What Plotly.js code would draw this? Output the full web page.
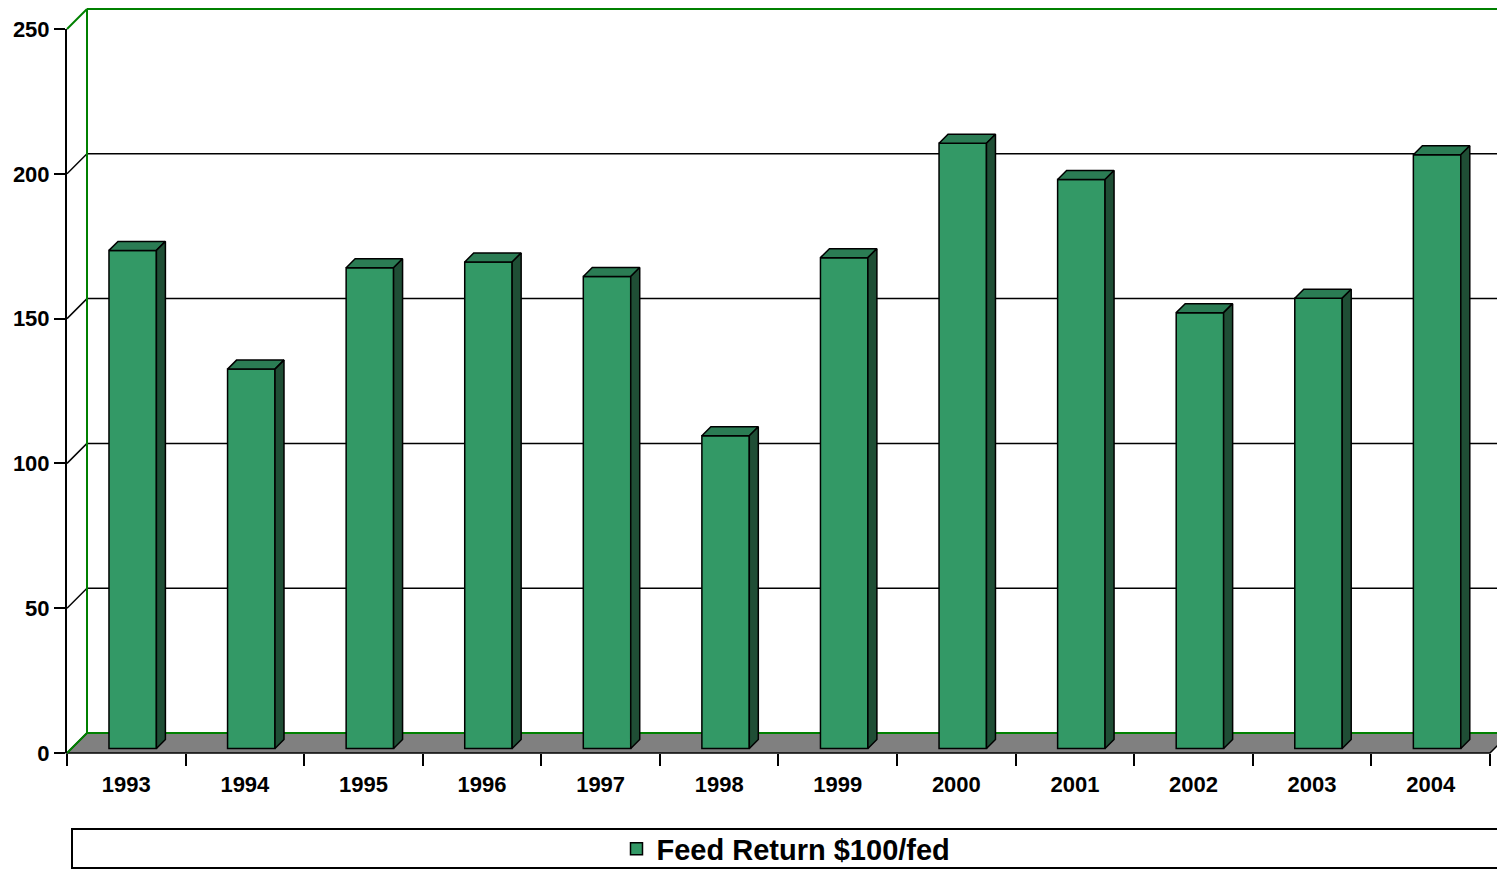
<!DOCTYPE html>
<html>
<head>
<meta charset="utf-8">
<script src="https://cdn.plot.ly/plotly-3.0.1.min.js"></script>
<style>
  html, body { margin: 0; padding: 0; background: #fff; }
  #plotDiv { width: 1497px; height: 870px; }
</style>
</head>
<body>
<div id="plotDiv"></div>
<script>
// data
var years = ['1993', '1994', '1995', '1996', '1997', '1998', '1999', '2000', '2001', '2002', '2003', '2004'];
var feedReturn = [172, 131, 166, 168, 163, 108, 169.5, 209, 196.5, 150.5, 155.5, 205];
var yTicks = [0, 50, 100, 150, 200, 250];
var seriesName = 'Feed Return $100/fed';

// pixel scale of the plot (used for the fake 3d depth)
var W = 1497, H = 870;
var mL = 67, mR = 0, mT = 29, mB = 117;
var pxPerCat = 118.58;
var yMax = 250;
var pxPerY = (H - mT - mB) / yMax;
var xMin = -0.5;
var xMax = xMin + (W - mL - mR) / pxPerCat;

// depth of the walls and of the bars, in pixels
var wallDx = 20 / pxPerCat, wallDy = 20 / pxPerY;
var barDx = 9 / pxPerCat, barDy = 9 / pxPerY;
var barBase = 4.5 / pxPerY;
var barOffset = -0.146, barWidth = 0.40;

var green = '#339966', greenTop = '#2b7c54', greenSide = '#1f4e35';
var wallGreen = '#008000';

var idx = years.map(function (y, i) { return i; });

// data -> paper
function px(x) { return (x - xMin) / (xMax - xMin); }
function py(y) { return y / yMax; }

// front faces
var bars = {
    x: idx,
    y: feedReturn,
    base: feedReturn.map(function () { return barBase; }),
    type: 'bar',
    width: barWidth,
    offset: barOffset,
    name: seriesName,
    marker: { color: green, line: { color: '#000', width: 1.5 } },
    hoverinfo: 'skip'
};

// top and side faces
var topX = [], topY = [], sideX = [], sideY = [];
for (var i = 0; i < feedReturn.length; i++) {
    var x0 = i + barOffset, x1 = x0 + barWidth;
    var t = barBase + feedReturn[i];
    topX.push(x0, x1, x1 + barDx, x0 + barDx, x0, null);
    topY.push(t, t, t + barDy, t + barDy, t, null);
    sideX.push(x1, x1 + barDx, x1 + barDx, x1, x1, null);
    sideY.push(barBase, barBase + barDy, t + barDy, t, barBase, null);
}
var tops = {
    x: topX, y: topY, mode: 'lines', fill: 'toself', fillcolor: greenTop,
    line: { color: '#000', width: 1.5 }, showlegend: false, hoverinfo: 'skip'
};
var sides = {
    x: sideX, y: sideY, mode: 'lines', fill: 'toself', fillcolor: greenSide,
    line: { color: '#000', width: 1.5 }, showlegend: false, hoverinfo: 'skip'
};

// walls, floor and gridlines
var shapes = [];
var bx = xMin + wallDx;
// floor
shapes.push({
    type: 'path', xref: 'paper', yref: 'paper', layer: 'below',
    path: 'M' + px(xMin) + ',' + py(0) + ' L' + px(11.5) + ',' + py(0) +
          ' L' + px(11.5 + wallDx) + ',' + py(wallDy) + ' L' + px(bx) + ',' + py(wallDy) + ' Z',
    fillcolor: '#808080', line: { color: '#000', width: 1.5 }
});
yTicks.forEach(function (g) {
    var c = (g === 0 || g === yMax) ? wallGreen : '#000';
    var w = (g === 0 || g === yMax) ? 2 : 1.5;
    // left wall diagonal
    shapes.push({
        type: 'line', xref: 'paper', yref: 'paper', layer: 'below',
        x0: px(xMin), y0: py(g), x1: px(bx), y1: py(g + wallDy),
        line: { color: c, width: w }
    });
    // back wall line
    shapes.push({
        type: 'line', xref: 'paper', yref: 'paper', layer: 'below',
        x0: px(bx), y0: py(g + wallDy), x1: 1.05, y1: py(g + wallDy),
        line: { color: c, width: w }
    });
});
// back wall left edge
shapes.push({
    type: 'line', xref: 'paper', yref: 'paper', layer: 'below',
    x0: px(bx), y0: py(wallDy), x1: px(bx), y1: py(yMax + wallDy),
    line: { color: wallGreen, width: 2 }
});
// legend box
shapes.push({
    type: 'rect', xref: 'paper', yref: 'paper', layer: 'below',
    x0: (72 - mL) / (W - mL - mR), x1: 1.05,
    y0: -(829 - (H - mB)) / (H - mT - mB), y1: -(868 - (H - mB)) / (H - mT - mB),
    fillcolor: '#fff', line: { color: '#000', width: 2 }
});

var bounds = idx.map(function (i) { return i - 0.5; });
bounds.push(11.5);

var tickFont = { family: 'Liberation Sans, Arial, sans-serif', size: 22, color: '#000', weight: 'bold' };

var layout = {
    width: W, height: H,
    margin: { l: mL, r: mR, t: mT, b: mB, pad: 0, autoexpand: false },
    paper_bgcolor: '#fff', plot_bgcolor: 'rgba(0,0,0,0)',
    showlegend: true,
    xaxis: {
        range: [xMin, xMax], showgrid: false, zeroline: false, showline: false, automargin: false,
        tickmode: 'array', tickvals: idx, ticktext: years, ticks: '', ticklabelstandoff: 16,
        tickfont: tickFont, fixedrange: true,
        minor: { tickmode: 'array', tickvals: bounds, ticks: 'outside', ticklen: 12, tickwidth: 2, tickcolor: '#000', showgrid: false }
    },
    yaxis: {
        range: [0, yMax], showgrid: false, zeroline: false, automargin: false,
        showline: true, linecolor: '#000', linewidth: 2,
        tickmode: 'array', tickvals: yTicks, ticks: 'outside', ticklen: 11, tickwidth: 2, tickcolor: '#000',
        tickfont: tickFont, fixedrange: true
    },
    legend: {
        orientation: 'h', x: (786 - mL) / (W - mL - mR), xanchor: 'center',
        y: -(849 - (H - mB)) / (H - mT - mB), yanchor: 'middle',
        bgcolor: 'rgba(0,0,0,0)', borderwidth: 0,
        font: { family: 'Liberation Sans, Arial, sans-serif', size: 29, color: '#000', weight: 'bold' }
    },
    shapes: shapes
};

var data = [bars, tops, sides];
Plotly.newPlot('plotDiv', data, layout, { displayModeBar: false, staticPlot: true });
</script>
</body>
</html>
